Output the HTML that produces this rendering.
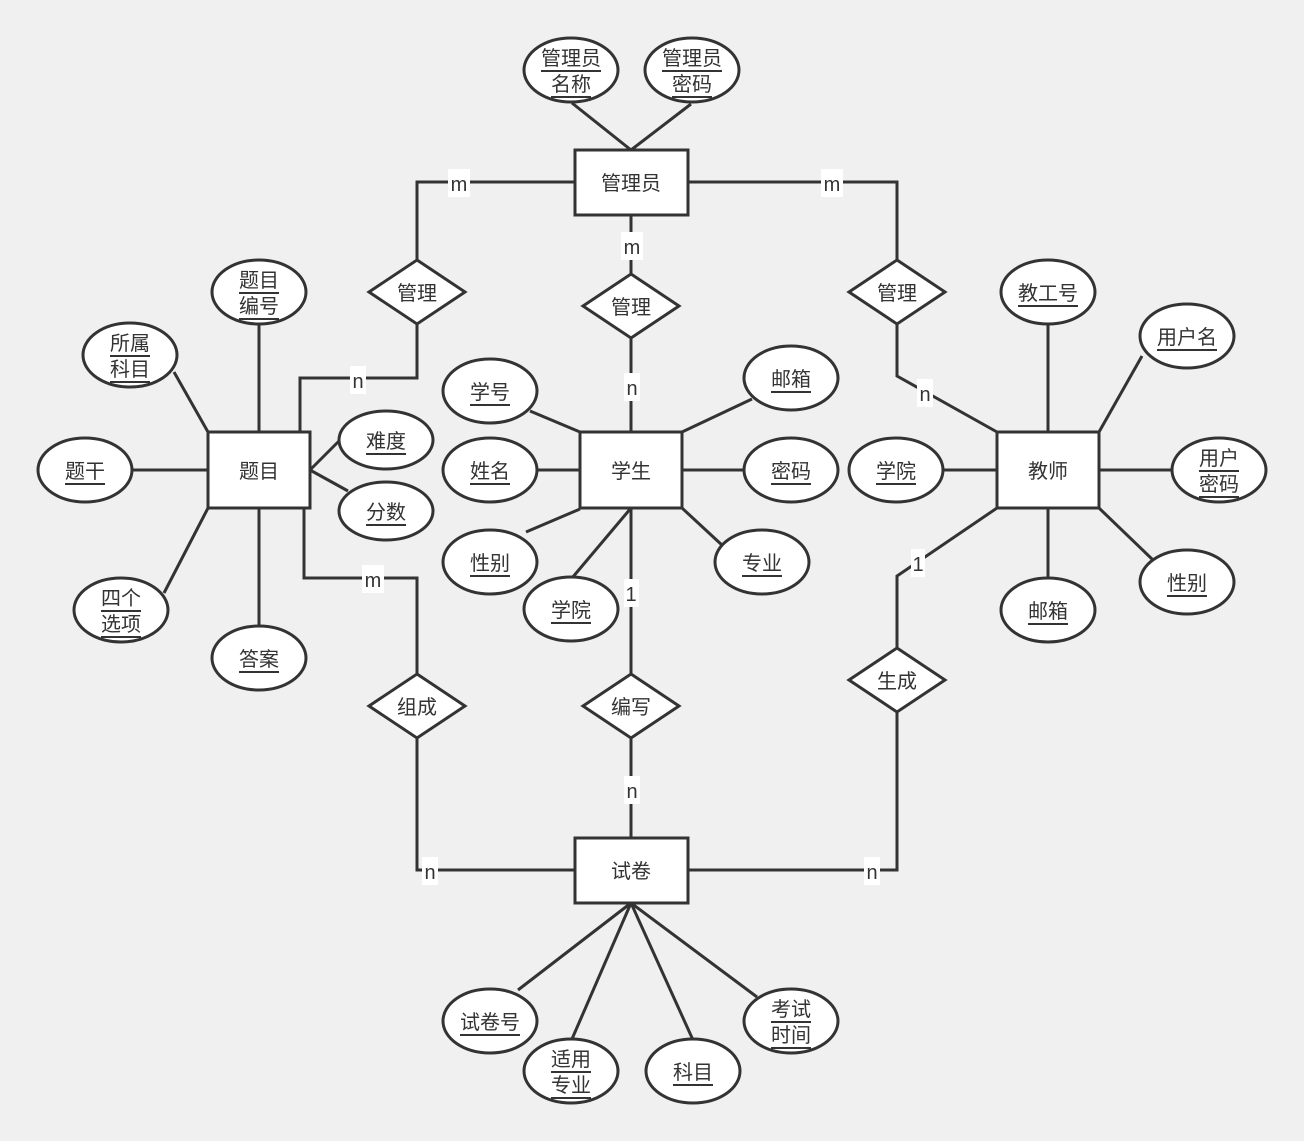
<!DOCTYPE html>
<html><head><meta charset="utf-8"><style>
html,body{margin:0;padding:0;background:#f0f0f0;}
svg{display:block;}
text{font-family:"Liberation Sans","Noto Sans CJK SC",sans-serif;font-size:20px;fill:#333;text-anchor:middle;dominant-baseline:central;transform:translateY(2px);}
.u{text-decoration:underline;}
.ln{fill:none;stroke:#333;stroke-width:3;}
.sh{fill:#fff;stroke:#333;stroke-width:3;}
.lb{fill:#fff;stroke:none;}
</style></head><body>
<svg width="1304" height="1141" viewBox="0 0 1304 1141" xmlns="http://www.w3.org/2000/svg">
<rect width="1304" height="1141" fill="#f0f0f0"/>
<g class="ln">
<line x1="572" y1="103" x2="631" y2="150"/>
<line x1="691" y1="104" x2="631" y2="150"/>
<polyline points="575,182 417,182 417,260"/>
<line x1="631" y1="215" x2="631" y2="274"/>
<polyline points="688,182 897,182 897,260"/>
<polyline points="417,324 417,378 300,378 300,432"/>
<line x1="631" y1="338" x2="631" y2="432"/>
<polyline points="897,324 897,376 997,432"/>
<line x1="259" y1="324" x2="259" y2="432"/>
<line x1="174" y1="372" x2="208" y2="432"/>
<line x1="133" y1="470" x2="208" y2="470"/>
<line x1="164" y1="593" x2="208" y2="508"/>
<line x1="259" y1="508" x2="259" y2="626"/>
<line x1="310" y1="470" x2="340" y2="440"/>
<line x1="310" y1="470" x2="348" y2="491"/>
<polyline points="304,508 304,578 417,578 417,674"/>
<polyline points="417,738 417,870 575,870"/>
<line x1="631" y1="508" x2="631" y2="674"/>
<line x1="631" y1="738" x2="631" y2="838"/>
<polyline points="997,508 897,576 897,648"/>
<polyline points="897,712 897,870 688,870"/>
<line x1="530" y1="411" x2="580" y2="432"/>
<line x1="538" y1="470" x2="580" y2="470"/>
<line x1="526" y1="532" x2="580" y2="509"/>
<line x1="572" y1="578" x2="631" y2="508"/>
<line x1="752" y1="399" x2="682" y2="432"/>
<line x1="682" y1="470" x2="743" y2="470"/>
<line x1="682" y1="508" x2="723" y2="546"/>
<line x1="1048" y1="324" x2="1048" y2="432"/>
<line x1="1142" y1="356" x2="1099" y2="432"/>
<line x1="944" y1="470" x2="997" y2="470"/>
<line x1="1099" y1="470" x2="1171" y2="470"/>
<line x1="1099" y1="508" x2="1153" y2="560"/>
<line x1="1048" y1="508" x2="1048" y2="578"/>
<line x1="631" y1="903" x2="518" y2="990"/>
<line x1="631" y1="903" x2="572" y2="1039"/>
<line x1="631" y1="903" x2="693" y2="1040"/>
<line x1="631" y1="903" x2="757" y2="997"/>
</g>

<!-- entities -->
<rect class="sh" x="575" y="150" width="113" height="65"/>
<text x="631" y="182">管理员</text>
<rect class="sh" x="208" y="432" width="102" height="76"/>
<text x="259" y="470">题目</text>
<rect class="sh" x="580" y="432" width="102" height="76"/>
<text x="631" y="470">学生</text>
<rect class="sh" x="997" y="432" width="102" height="76"/>
<text x="1048" y="470">教师</text>
<rect class="sh" x="575" y="838" width="113" height="65"/>
<text x="631" y="870">试卷</text>

<!-- diamonds -->
<polygon class="sh" points="417,260 465,292 417,324 369,292"/>
<text x="417" y="292">管理</text>
<polygon class="sh" points="631,274 679,306 631,338 583,306"/>
<text x="631" y="306">管理</text>
<polygon class="sh" points="897,260 945,292 897,324 849,292"/>
<text x="897" y="292">管理</text>
<polygon class="sh" points="417,674 465,706 417,738 369,706"/>
<text x="417" y="706">组成</text>
<polygon class="sh" points="631,674 679,706 631,738 583,706"/>
<text x="631" y="706">编写</text>
<polygon class="sh" points="897,648 945,680 897,712 849,680"/>
<text x="897" y="680">生成</text>

<!-- attributes -->
<ellipse class="sh" cx="571" cy="70" rx="47" ry="32"/>
<text class="u" x="571" y="57">管理员</text><text class="u" x="571" y="83">名称</text>
<ellipse class="sh" cx="692" cy="70" rx="47" ry="32"/>
<text class="u" x="692" y="57">管理员</text><text class="u" x="692" y="83">密码</text>

<ellipse class="sh" cx="259" cy="292" rx="47" ry="32"/>
<text class="u" x="259" y="279">题目</text><text class="u" x="259" y="305">编号</text>
<ellipse class="sh" cx="130" cy="355" rx="47" ry="32"/>
<text class="u" x="130" y="342">所属</text><text class="u" x="130" y="368">科目</text>
<ellipse class="sh" cx="85" cy="470" rx="47" ry="32"/>
<text class="u" x="85" y="470">题干</text>
<ellipse class="sh" cx="121" cy="610" rx="47" ry="32"/>
<text class="u" x="121" y="597">四个</text><text class="u" x="121" y="623">选项</text>
<ellipse class="sh" cx="259" cy="658" rx="47" ry="32"/>
<text class="u" x="259" y="658">答案</text>
<ellipse class="sh" cx="386" cy="440" rx="47" ry="29"/>
<text class="u" x="386" y="440">难度</text>
<ellipse class="sh" cx="386" cy="511" rx="47" ry="29"/>
<text class="u" x="386" y="511">分数</text>

<ellipse class="sh" cx="490" cy="391" rx="47" ry="32"/>
<text class="u" x="490" y="391">学号</text>
<ellipse class="sh" cx="490" cy="470" rx="47" ry="32"/>
<text class="u" x="490" y="470">姓名</text>
<ellipse class="sh" cx="490" cy="562" rx="47" ry="32"/>
<text class="u" x="490" y="562">性别</text>
<ellipse class="sh" cx="571" cy="609" rx="47" ry="32"/>
<text class="u" x="571" y="609">学院</text>
<ellipse class="sh" cx="791" cy="378" rx="47" ry="32"/>
<text class="u" x="791" y="378">邮箱</text>
<ellipse class="sh" cx="791" cy="470" rx="47" ry="32"/>
<text class="u" x="791" y="470">密码</text>
<ellipse class="sh" cx="762" cy="562" rx="47" ry="32"/>
<text class="u" x="762" y="562">专业</text>

<ellipse class="sh" cx="1048" cy="292" rx="47" ry="32"/>
<text class="u" x="1048" y="292">教工号</text>
<ellipse class="sh" cx="1187" cy="336" rx="47" ry="32"/>
<text class="u" x="1187" y="336">用户名</text>
<ellipse class="sh" cx="896" cy="470" rx="47" ry="32"/>
<text class="u" x="896" y="470">学院</text>
<ellipse class="sh" cx="1219" cy="470" rx="47" ry="32"/>
<text class="u" x="1219" y="457">用户</text><text class="u" x="1219" y="483">密码</text>
<ellipse class="sh" cx="1187" cy="582" rx="47" ry="32"/>
<text class="u" x="1187" y="582">性别</text>
<ellipse class="sh" cx="1048" cy="610" rx="47" ry="32"/>
<text class="u" x="1048" y="610">邮箱</text>

<ellipse class="sh" cx="490" cy="1021" rx="47" ry="32"/>
<text class="u" x="490" y="1021">试卷号</text>
<ellipse class="sh" cx="571" cy="1071" rx="47" ry="32"/>
<text class="u" x="571" y="1058">适用</text><text class="u" x="571" y="1084">专业</text>
<ellipse class="sh" cx="693" cy="1071" rx="47" ry="32"/>
<text class="u" x="693" y="1071">科目</text>
<ellipse class="sh" cx="791" cy="1021" rx="47" ry="32"/>
<text class="u" x="791" y="1008">考试</text><text class="u" x="791" y="1034">时间</text>

<!-- cardinality labels -->
<rect class="lb" x="448" y="169" width="22" height="28"/><text x="459" y="183">m</text>
<rect class="lb" x="621" y="232" width="22" height="28"/><text x="632" y="246">m</text>
<rect class="lb" x="821" y="169" width="22" height="28"/><text x="832" y="183">m</text>
<rect class="lb" x="350" y="366" width="16" height="28"/><text x="358" y="380">n</text>
<rect class="lb" x="624" y="373" width="16" height="28"/><text x="632" y="387">n</text>
<rect class="lb" x="917" y="379" width="16" height="28"/><text x="925" y="393">n</text>
<rect class="lb" x="362" y="565" width="22" height="28"/><text x="373" y="579">m</text>
<rect class="lb" x="624" y="579" width="15" height="28"/><text x="631" y="593">1</text>
<rect class="lb" x="624" y="776" width="16" height="28"/><text x="632" y="790">n</text>
<rect class="lb" x="422" y="857" width="16" height="28"/><text x="430" y="871">n</text>
<rect class="lb" x="864" y="857" width="16" height="28"/><text x="872" y="871">n</text>
<rect class="lb" x="911" y="549" width="14" height="28"/><text x="918" y="563">1</text>
</svg>
</body></html>
